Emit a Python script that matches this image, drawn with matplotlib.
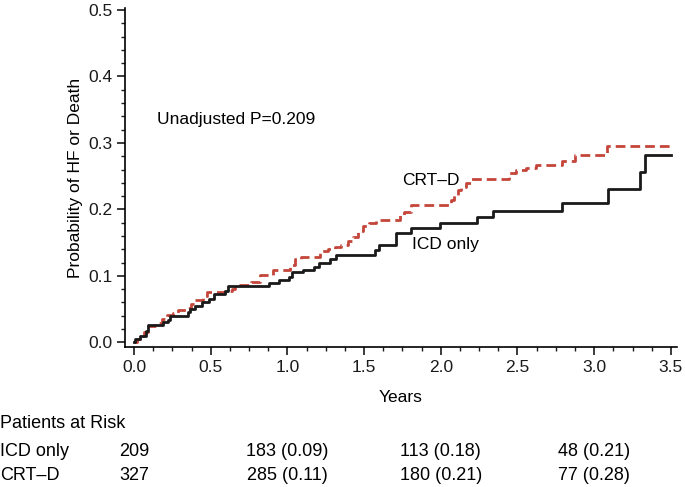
import matplotlib
matplotlib.use("Agg")
import matplotlib.pyplot as plt
from matplotlib.ticker import MultipleLocator

plt.rcParams["font.family"] = ["Liberation Sans", "DejaVu Sans"]

# cumulative incidence, step curves (time in years, probability)
icd_t = [0.0, 0.007, 0.04, 0.076, 0.089, 0.19, 0.22, 0.234, 0.353, 0.366, 0.40,
         0.44, 0.488, 0.522, 0.592, 0.613, 0.878, 0.945, 1.01, 1.033, 1.10, 1.173,
         1.204, 1.275, 1.319, 1.568, 1.596, 1.709, 1.807, 1.995, 2.236, 2.338,
         2.793, 3.092, 3.299, 3.331, 3.50]
icd_p = [0.0, 0.005, 0.010, 0.017, 0.026, 0.030, 0.034, 0.039, 0.045, 0.050, 0.055,
         0.060, 0.065, 0.072, 0.078, 0.085, 0.089, 0.094, 0.099, 0.106, 0.109, 0.114,
         0.119, 0.125, 0.132, 0.139, 0.147, 0.164, 0.172, 0.180, 0.189, 0.197,
         0.210, 0.230, 0.257, 0.282, 0.282]

crt_t = [0.0, 0.02, 0.04, 0.066, 0.092, 0.136, 0.179, 0.212, 0.255, 0.288, 0.343,
         0.37, 0.397, 0.450, 0.473, 0.592, 0.636, 0.657, 0.761, 0.820, 0.906, 1.015,
         1.047, 1.091, 1.210, 1.265, 1.308, 1.352, 1.395, 1.428, 1.460, 1.493, 1.535,
         1.579, 1.731, 1.763, 1.807, 2.067, 2.089, 2.110, 2.132, 2.164, 2.197, 2.446,
         2.490, 2.555, 2.620, 2.793, 2.876, 3.086, 3.51]
crt_p = [0.0, 0.005, 0.010, 0.016, 0.025, 0.029, 0.035, 0.041, 0.044, 0.049, 0.051,
         0.057, 0.064, 0.069, 0.075, 0.077, 0.081, 0.087, 0.091, 0.101, 0.109, 0.116,
         0.125, 0.129, 0.137, 0.141, 0.144, 0.147, 0.152, 0.159, 0.167, 0.175, 0.180,
         0.184, 0.192, 0.196, 0.207, 0.214, 0.222, 0.229, 0.233, 0.240, 0.2455, 0.255,
         0.259, 0.262, 0.267, 0.273, 0.282, 0.2955, 0.2955]

risk_years = [0, 1, 2, 3]
risk_groups = ["ICD only", "CRT\u2013D"]
risk_icd = ["209", "183 (0.09)", "113 (0.18)", "48 (0.21)"]
risk_crt = ["327", "285 (0.11)", "180 (0.21)", "77 (0.28)"]

BLACK = "#1a1a1a"
RED = "#c4463a"

fig = plt.figure(figsize=(6.85, 4.87), dpi=100)
# axes box in pixels: left 125, right 677, top 8, bottom 347
ax = fig.add_axes([125 / 685, 1 - 347 / 487, (677 - 125) / 685, (347 - 8) / 487])

ax.step(icd_t, icd_p, where="post", color=BLACK, lw=2.0, zorder=3)
ax.step(crt_t, crt_p, where="post", color=RED, lw=2.0, dashes=(3.5, 1.8), zorder=2)

ax.set_xlim(-0.059, 3.54)
ax.set_ylim(-0.007, 0.503)
ax.xaxis.set_major_locator(MultipleLocator(0.5))
ax.xaxis.set_minor_locator(MultipleLocator(0.125))
ax.yaxis.set_major_locator(MultipleLocator(0.1))
ax.yaxis.set_minor_locator(MultipleLocator(0.02))
ax.xaxis.set_major_formatter(plt.FormatStrFormatter("%.1f"))
ax.yaxis.set_major_formatter(plt.FormatStrFormatter("%.1f"))

for s in ("top", "right"):
    ax.spines[s].set_visible(False)
for s in ("left", "bottom"):
    ax.spines[s].set_linewidth(1.2)
ax.tick_params(which="major", direction="out", length=6, width=1.2, labelsize=12.5,
               color=BLACK, labelcolor=BLACK, pad=3)
ax.tick_params(which="minor", direction="out", length=3, width=1.0, color=BLACK)

ax.set_xlabel("Years", fontsize=12.5, labelpad=11)
ax.set_ylabel("Probability of HF or Death", fontsize=12.5, labelpad=4)

ax.text(0.15, 0.335, "Unadjusted P=0.209", fontsize=12.5, va="center", ha="left")
ax.text(1.745, 0.244, "CRT\u2013D", fontsize=12.5, va="center", ha="left")
ax.text(1.815, 0.147, "ICD only", fontsize=12.5, va="center", ha="left")

# patients at risk table
RISK_FS = 13
fig.text(0.0, 1 - 424 / 487, "Patients at Risk", fontsize=RISK_FS, va="center", ha="left")
row_y = [1 - 452 / 487, 1 - 475 / 487]
to_fig = fig.transFigure.inverted()
for name, vals, y in zip(risk_groups, [risk_icd, risk_crt], row_y):
    fig.text(0.0, y, name, fontsize=RISK_FS, va="center", ha="left")
    for xv, v in zip(risk_years, vals):
        xf = to_fig.transform(ax.transData.transform((xv, 0)))[0]
        fig.text(xf, y, v, fontsize=RISK_FS, va="center", ha="center")

fig.savefig("out.png", dpi=100, facecolor="white")
